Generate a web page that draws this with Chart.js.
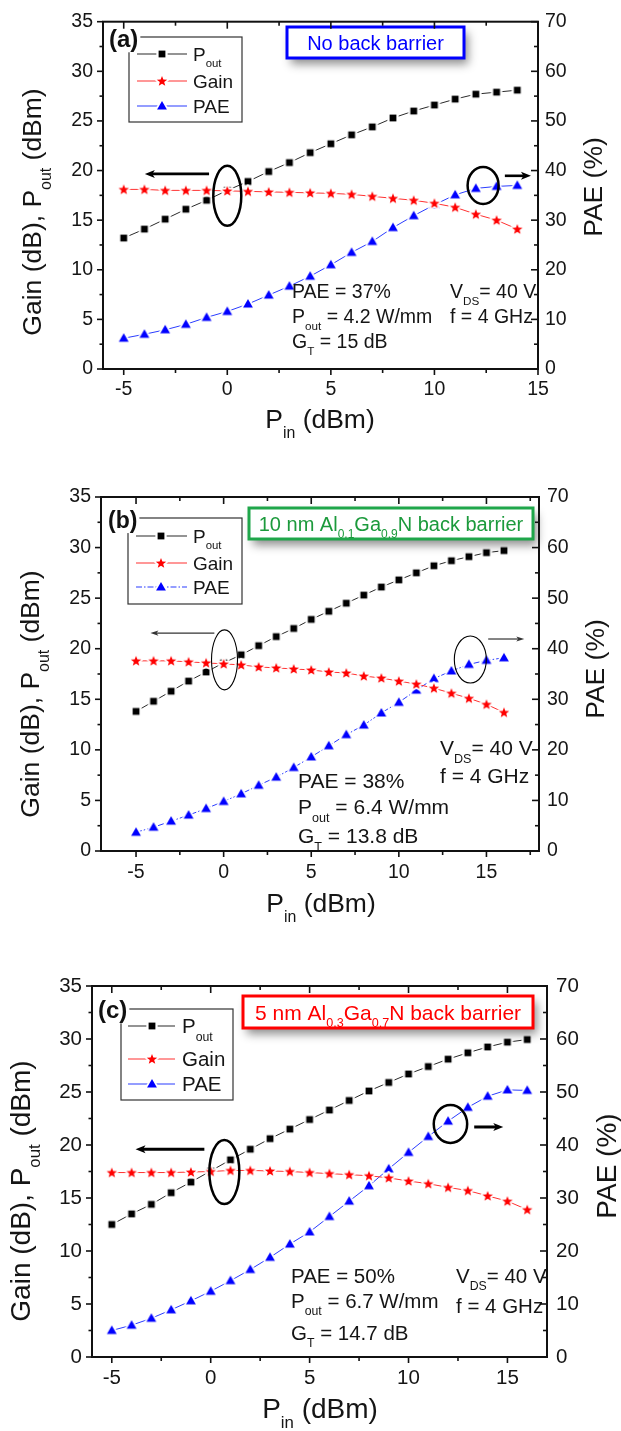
<!DOCTYPE html>
<html>
<head>
<meta charset="utf-8">
<script src="https://cdn.jsdelivr.net/npm/chart.js@4.4.1/dist/chart.umd.min.js"></script>
<style>
  html, body { margin: 0; padding: 0; background: #fff; }
  body { width: 621px; height: 1431px; position: relative; overflow: hidden; }
  canvas { position: absolute; left: 0; display: block; }
</style>
</head>
<body>
<canvas id="panelA" width="621" height="450" style="top:0px"></canvas>
<canvas id="panelB" width="621" height="480" style="top:460px"></canvas>
<canvas id="panelC" width="621" height="481" style="top:950px"></canvas>
<script>
const FONT = '"Liberation Sans", Arial, Helvetica, sans-serif';
const INK = '#151515';

// (a) no back barrier
const pinA  = [-5, -4, -3, -2, -1, 0, 1, 2, 3, 4, 5, 6, 7, 8, 9, 10, 11, 12, 13, 14];
const poutA = [13.2, 14.1, 15.1, 16.1, 17.0, 18.0, 18.9, 19.9, 20.8, 21.8, 22.7, 23.6, 24.4, 25.3, 26.0, 26.6, 27.2, 27.7, 27.9, 28.1];
const gainA = [18.1, 18.1, 18.0, 18.0, 18.0, 17.95, 17.9, 17.85, 17.8, 17.75, 17.7, 17.6, 17.4, 17.2, 17.0, 16.7, 16.3, 15.6, 15.0, 14.1];
const paeA  = [6.2, 7.0, 7.9, 9.0, 10.4, 11.6, 13.1, 14.9, 16.7, 18.7, 21.0, 23.5, 25.7, 28.5, 30.9, 33.1, 35.1, 36.4, 36.8, 37.0];

// (b) 10 nm Al0.1Ga0.9N back barrier
const pinB  = [-5, -4, -3, -2, -1, 0, 1, 2, 3, 4, 5, 6, 7, 8, 9, 10, 11, 12, 13, 14, 15, 16];
const poutB = [13.8, 14.8, 15.8, 16.8, 17.7, 18.6, 19.4, 20.3, 21.2, 22.0, 22.9, 23.7, 24.5, 25.3, 26.1, 26.8, 27.5, 28.2, 28.7, 29.1, 29.5, 29.7];
const gainB = [18.8, 18.8, 18.8, 18.7, 18.6, 18.5, 18.4, 18.2, 18.1, 18.0, 17.9, 17.7, 17.6, 17.3, 17.1, 16.8, 16.5, 16.1, 15.6, 15.1, 14.5, 13.7];
const paeB  = [3.7, 4.7, 5.9, 7.1, 8.4, 9.8, 11.3, 13.0, 14.6, 16.5, 18.6, 20.8, 23.0, 24.9, 27.3, 29.4, 31.8, 34.1, 35.6, 36.9, 37.7, 38.2];

// (c) 5 nm Al0.3Ga0.7N back barrier
const pinC  = [-5, -4, -3, -2, -1, 0, 1, 2, 3, 4, 5, 6, 7, 8, 9, 10, 11, 12, 13, 14, 15, 16];
const poutC = [12.5, 13.5, 14.4, 15.5, 16.5, 17.55, 18.6, 19.6, 20.6, 21.5, 22.4, 23.3, 24.2, 25.1, 25.9, 26.7, 27.4, 28.1, 28.7, 29.25, 29.7, 29.95];
const gainC = [17.4, 17.4, 17.4, 17.4, 17.45, 17.5, 17.6, 17.6, 17.55, 17.5, 17.4, 17.3, 17.2, 17.1, 16.9, 16.6, 16.35, 16.0, 15.7, 15.2, 14.7, 13.9];
const paeC  = [5.0, 6.0, 7.3, 8.9, 10.6, 12.4, 14.4, 16.5, 18.8, 21.3, 23.6, 26.5, 29.4, 32.3, 35.5, 38.6, 41.6, 44.5, 47.1, 49.2, 50.4, 50.3];

// axis tick values
const pinTicks  = [-5, 0, 5, 10, 15];
const gainTicks = [0, 5, 10, 15, 20, 25, 30, 35];
const paeTicks  = [0, 10, 20, 30, 40, 50, 60, 70];

// ---------- marker glyphs (filled symbol with a white gap ring) ----------
function starPath(g, cx, cy, ro, ri) {
  for (let k = 0; k < 10; k++) {
    const r = k % 2 ? ri : ro;
    const a = -Math.PI / 2 + k * Math.PI / 5;
    const px = cx + r * Math.cos(a), py = cy + r * Math.sin(a);
    if (k === 0) g.moveTo(px, py); else g.lineTo(px, py);
  }
  g.closePath();
}
function makeMarker(kind, color) {
  const c = document.createElement('canvas');
  const D = 18; c.width = D; c.height = D;
  const g = c.getContext('2d');
  const m = D / 2;
  g.beginPath();
  let ring = 3.5;
  if (kind === 'square') { g.rect(m - 3.4, m - 3.4, 6.8, 6.8); ring = 4.5; }
  else if (kind === 'star') { starPath(g, m, m + 0.4, 5.5, 2.3); }
  else { g.moveTo(m, m - 4.9); g.lineTo(m + 4.9, m + 3.5); g.lineTo(m - 4.9, m + 3.5); g.closePath(); }
  g.lineJoin = 'round';
  g.lineWidth = ring; g.strokeStyle = '#fff'; g.stroke();
  g.fillStyle = color; g.fill();
  return c;
}
const MK = {
  square: makeMarker('square', '#000000'),
  star: makeMarker('star', '#ff0000'),
  tri: makeMarker('tri', '#0000ff')
};

// ---------- rich text with subscripts ----------
function partsWidth(ctx, parts, size) {
  let w = 0;
  for (const [t, sub] of parts) {
    ctx.font = (sub ? size * 0.6 : size) + 'px ' + FONT;
    w += ctx.measureText(t).width;
  }
  return w;
}
function drawParts(ctx, parts, x, y, size, color, align, weight) {
  ctx.save();
  ctx.fillStyle = color;
  ctx.textBaseline = 'alphabetic';
  ctx.textAlign = 'left';
  const w = partsWidth(ctx, parts, size);
  let cx = align === 'center' ? x - w / 2 : x;
  for (const [t, sub] of parts) {
    ctx.font = (weight ? weight + ' ' : '') + (sub ? size * 0.6 : size) + 'px ' + FONT;
    ctx.fillText(t, cx, sub ? y + size * 0.36 : y);
    cx += ctx.measureText(t).width;
  }
  ctx.restore();
  return w;
}
function drawRotated(ctx, parts, x, y, size) {
  ctx.save();
  ctx.translate(x, y);
  ctx.rotate(-Math.PI / 2);
  drawParts(ctx, parts, 0, 0, size, INK, 'center');
  ctx.restore();
}

function minorsOf(majors, min, max) {
  const step = majors[1] - majors[0];
  const out = [];
  for (let v = majors[0] - step / 2; v <= max + 1e-9; v += step) {
    if (v >= min - 1e-9) out.push(v);
  }
  return out;
}

// ---------- per-panel decorations: frame, ticks, legend, labels ----------
function decorPlugin(cfg) {
  return {
    id: 'panelDecor',
    afterDatasetsDraw(chart) {
      const ctx = chart.ctx;
      const { x, y } = chart.scales;

      // ellipses marking which curves belong to which axis
      ctx.save();
      ctx.strokeStyle = '#000';
      for (const e of cfg.ellipses) {
        ctx.lineWidth = e.w;
        ctx.beginPath();
        ctx.ellipse(x.getPixelForValue(e.x), y.getPixelForValue(e.y), e.rx, e.ry, 0, 0, Math.PI * 2);
        ctx.stroke();
      }
      // arrows
      for (const a of cfg.arrows) {
        const x1 = x.getPixelForValue(a.x1), x2 = x.getPixelForValue(a.x2), py = y.getPixelForValue(a.y);
        const dir = Math.sign(x2 - x1);
        const hl = a.w > 2 ? 10 : 8, hw = a.w > 2 ? 4 : 2.6;
        ctx.lineWidth = a.w;
        ctx.strokeStyle = a.w > 2 ? '#000' : '#333';
        ctx.beginPath(); ctx.moveTo(x1, py); ctx.lineTo(x2 - dir * hl * 0.7, py); ctx.stroke();
        ctx.fillStyle = ctx.strokeStyle;
        ctx.beginPath();
        ctx.moveTo(x2, py); ctx.lineTo(x2 - dir * hl, py - hw); ctx.lineTo(x2 - dir * hl * 0.75, py); ctx.lineTo(x2 - dir * hl, py + hw);
        ctx.closePath(); ctx.fill();
      }
      ctx.restore();

      // operating-point notes
      for (const n of cfg.notes) drawParts(ctx, n.parts, n.x, n.y, cfg.noteSize, INK, 'left');

      // legend box
      const L = cfg.legend;
      ctx.save();
      ctx.fillStyle = '#fff';
      ctx.fillRect(L.box[0], L.box[1], L.box[2] - L.box[0], L.box[3] - L.box[1]);
      ctx.strokeStyle = '#333'; ctx.lineWidth = 1.2;
      ctx.strokeRect(L.box[0], L.box[1], L.box[2] - L.box[0], L.box[3] - L.box[1]);
      const entries = [
        { ds: chart.data.datasets[1], parts: [['P'], ['out', 1]], mk: MK.square },
        { ds: chart.data.datasets[0], parts: [['Gain']], mk: MK.star },
        { ds: chart.data.datasets[2], parts: [['PAE']], mk: MK.tri }
      ];
      entries.forEach((en, i) => {
        const ry = L.rows[i];
        ctx.strokeStyle = en.ds.borderColor;
        ctx.lineWidth = 1.2;
        ctx.setLineDash(en.ds.borderDash || []);
        ctx.beginPath(); ctx.moveTo(L.lineX[0], ry); ctx.lineTo(L.lineX[1], ry); ctx.stroke();
        ctx.setLineDash([]);
        ctx.drawImage(en.mk, L.markX - en.mk.width / 2, ry - en.mk.height / 2);
        drawParts(ctx, en.parts, L.textX, ry + L.size * 0.35, L.size, INK, 'left');
      });
      ctx.restore();

      // panel tag, on a white patch over the legend corner
      ctx.save();
      ctx.font = 'bold ' + cfg.tag.size + 'px ' + FONT;
      const tw = ctx.measureText(cfg.tag.text).width;
      ctx.fillStyle = '#fff';
      ctx.fillRect(cfg.tag.x - 2, cfg.tag.y - cfg.tag.size * 0.8, tw + 4, cfg.tag.size * 1.02);
      ctx.fillStyle = '#111';
      ctx.textBaseline = 'alphabetic';
      ctx.fillText(cfg.tag.text, cfg.tag.x, cfg.tag.y);
      ctx.restore();

      // header box with drop shadow
      const H = cfg.header;
      ctx.save();
      ctx.shadowColor = 'rgba(0,0,0,0.45)';
      ctx.shadowBlur = 9; ctx.shadowOffsetX = 4; ctx.shadowOffsetY = 6;
      ctx.fillStyle = '#fff';
      ctx.fillRect(H.box[0], H.box[1], H.box[2] - H.box[0], H.box[3] - H.box[1]);
      ctx.restore();
      ctx.save();
      ctx.strokeStyle = H.border; ctx.lineWidth = 3;
      ctx.strokeRect(H.box[0], H.box[1], H.box[2] - H.box[0], H.box[3] - H.box[1]);
      ctx.restore();
      drawParts(ctx, H.parts, (H.box[0] + H.box[2]) / 2, (H.box[1] + H.box[3]) / 2 + H.size * 0.36, H.size, H.color, 'center');
    },
    afterDraw(chart) {
      const ctx = chart.ctx;
      const a = chart.chartArea;
      const { x, y, y2 } = chart.scales;
      ctx.save();
      ctx.strokeStyle = '#111';
      ctx.lineWidth = 1.6;
      const seg = (x1, y1, x2, y2_) => { ctx.beginPath(); ctx.moveTo(x1, y1); ctx.lineTo(x2, y2_); ctx.stroke(); };
      // x: outward at bottom, inward at top
      for (const v of pinTicks) { const p = x.getPixelForValue(v); seg(p, a.bottom, p, a.bottom + 6); seg(p, a.top, p, a.top + 7); }
      for (const v of minorsOf(pinTicks, x.min, x.max)) { const p = x.getPixelForValue(v); seg(p, a.bottom, p, a.bottom + 4); seg(p, a.top, p, a.top + 4); }
      // left: outward
      for (const v of gainTicks) { const p = y.getPixelForValue(v); seg(a.left, p, a.left - 6, p); }
      for (const v of minorsOf(gainTicks, y.min, y.max)) { const p = y.getPixelForValue(v); seg(a.left, p, a.left - 3.5, p); }
      // right: inward
      for (const v of paeTicks) { const p = y2.getPixelForValue(v); seg(a.right, p, a.right - 7, p); }
      for (const v of minorsOf(paeTicks, y2.min, y2.max)) { const p = y2.getPixelForValue(v); seg(a.right, p, a.right - 4, p); }
      // frame
      ctx.lineWidth = 2;
      ctx.strokeRect(a.left, a.top, a.right - a.left, a.bottom - a.top);
      ctx.restore();

      // axis titles
      const T = cfg.titles;
      drawRotated(ctx, [['Gain (dB), P'], ['out', 1], [' (dBm)']], T.left[0], T.left[1], T.size);
      drawRotated(ctx, [['PAE (%)']], T.right[0], T.right[1], T.size);
      drawParts(ctx, [['P'], ['in', 1], [' (dBm)']], T.bottom[0], T.bottom[1], T.size, INK, 'center');
    }
  };
}

function makePanel(id, pin, pout, gain, pae, xr, cfg) {
  const canvas = document.getElementById(id);
  const W = canvas.width, Hh = canvas.height, A = cfg.area;
  const pts = vals => pin.map((p, i) => ({ x: p, y: vals[i] }));
  const tickFont = { family: FONT, size: cfg.tickSize };
  return new Chart(canvas, {
    type: 'line',
    data: {
      datasets: [
        { label: 'Gain', data: pts(gain), yAxisID: 'y', order: 0,
          borderColor: '#ff3030', borderWidth: 1, borderDash: cfg.dash.gain,
          pointStyle: MK.star, pointRadius: 4, pointHoverRadius: 4, tension: 0, fill: false },
        { label: 'Pout', data: pts(pout), yAxisID: 'y', order: 1,
          borderColor: '#2a2a2a', borderWidth: 1, borderDash: cfg.dash.pout,
          pointStyle: MK.square, pointRadius: 4, pointHoverRadius: 4, tension: 0, fill: false },
        { label: 'PAE', data: pts(pae), yAxisID: 'y2', order: 2,
          borderColor: '#2a3cff', borderWidth: 1, borderDash: cfg.dash.pae,
          pointStyle: MK.tri, pointRadius: 4, pointHoverRadius: 4, tension: 0, fill: false }
      ]
    },
    options: {
      responsive: false,
      animation: false,
      events: [],
      layout: { padding: { top: A.top, left: 0, right: 0, bottom: 0 }, autoPadding: false },
      plugins: { legend: { display: false }, tooltip: { enabled: false } },
      scales: {
        x: {
          type: 'linear', position: 'bottom', min: xr[0], max: xr[1],
          afterBuildTicks: s => { s.ticks = pinTicks.map(v => ({ value: v })); },
          afterFit: s => { s.height = Hh - A.bottom; },
          grid: { display: false, drawTicks: false }, border: { display: false },
          ticks: { padding: cfg.pad.bottom, font: tickFont, color: INK, maxRotation: 0, autoSkip: false, callback: v => String(v) }
        },
        y: {
          type: 'linear', position: 'left', min: 0, max: 35,
          afterBuildTicks: s => { s.ticks = gainTicks.map(v => ({ value: v })); },
          afterFit: s => { s.width = A.left; },
          grid: { display: false, drawTicks: false }, border: { display: false },
          ticks: { padding: cfg.pad.left, font: tickFont, color: INK, callback: v => String(v) }
        },
        y2: {
          type: 'linear', position: 'right', min: 0, max: 70,
          afterBuildTicks: s => { s.ticks = paeTicks.map(v => ({ value: v })); },
          afterFit: s => { s.width = W - A.right; },
          grid: { display: false, drawTicks: false }, border: { display: false },
          ticks: { padding: cfg.pad.right, font: tickFont, color: INK, callback: v => String(v) }
        }
      }
    },
    plugins: [decorPlugin(cfg)]
  });
}

const solid = [];

makePanel('panelA', pinA, poutA, gainA, paeA, [-6, 15], {
  area: { left: 103, right: 538, top: 16, bottom: 369 },
  tickSize: 19.5, pad: { left: 10, right: 7, bottom: 9 },
  dash: { pout: solid, gain: solid, pae: solid },
  tag: { text: '(a)', x: 109, y: 47, size: 24 },
  legend: { box: [129, 37, 242, 122], rows: [54, 81, 106], lineX: [137, 187], markX: 162, textX: 193, size: 19 },
  header: { box: [287, 27, 464, 58], border: '#0000ff', color: '#0000ff', size: 20, parts: [['No back barrier']] },
  ellipses: [ { x: 0.0, y: 17.45, rx: 14, ry: 30, w: 2.5 }, { x: 12.35, y: 18.5, rx: 15.5, ry: 18.5, w: 2.5 } ],
  arrows: [ { x1: -0.88, x2: -3.98, y: 19.66, w: 2.6 }, { x1: 13.4, x2: 14.66, y: 19.47, w: 2.6 } ],
  noteSize: 19.5,
  notes: [
    { x: 292, y: 298, parts: [['PAE = 37%']] },
    { x: 292, y: 323, parts: [['P'], ['out', 1], [' = 4.2 W/mm']] },
    { x: 292, y: 348, parts: [['G'], ['T', 1], [' = 15 dB']] },
    { x: 450, y: 298, parts: [['V'], ['DS', 1], ['= 40 V']] },
    { x: 450, y: 323, parts: [['f = 4 GHz']] }
  ],
  titles: { left: [41, 212], right: [602, 187], bottom: [320, 428], size: 26.5 }
});

makePanel('panelB', pinB, poutB, gainB, paeB, [-7, 18], {
  area: { left: 101, right: 539, top: 37, bottom: 391 },
  tickSize: 19.5, pad: { left: 10, right: 8, bottom: 10 },
  dash: { pout: solid, gain: solid, pae: [6, 2, 1.5, 2] },
  tag: { text: '(b)', x: 108, y: 68, size: 23 },
  legend: { box: [128, 58, 242, 144], rows: [76, 103, 127], lineX: [136, 187], markX: 161, textX: 193, size: 19 },
  header: { box: [249, 48, 533, 79], border: '#1fa64a', color: '#1c9a3c', size: 20,
            parts: [['10 nm Al'], ['0.1', 1], ['Ga'], ['0.9', 1], ['N back barrier']] },
  ellipses: [ { x: 0.05, y: 18.9, rx: 13, ry: 30, w: 1.1 }, { x: 14.08, y: 18.93, rx: 16, ry: 23.5, w: 1.1 } ],
  arrows: [ { x1: -0.53, x2: -4.18, y: 21.55, w: 1.2 }, { x1: 15.1, x2: 17.16, y: 20.96, w: 1.2 } ],
  noteSize: 21,
  notes: [
    { x: 298, y: 328, parts: [['PAE = 38%']] },
    { x: 298, y: 354, parts: [['P'], ['out', 1], [' = 6.4 W/mm']] },
    { x: 298, y: 383, parts: [['G'], ['T', 1], [' = 13.8 dB']] },
    { x: 440, y: 295, parts: [['V'], ['DS', 1], ['= 40 V']] },
    { x: 440, y: 323, parts: [['f = 4 GHz']] }
  ],
  titles: { left: [39, 234], right: [604, 209], bottom: [321, 452], size: 26.5 }
});

makePanel('panelC', pinC, poutC, gainC, paeC, [-6, 17], {
  area: { left: 92, right: 547, top: 36, bottom: 407 },
  tickSize: 20.5, pad: { left: 10, right: 9, bottom: 9 },
  dash: { pout: solid, gain: solid, pae: solid },
  tag: { text: '(c)', x: 98, y: 68, size: 24 },
  legend: { box: [121, 59, 233, 150], rows: [76, 109, 134], lineX: [128, 175], markX: 152, textX: 182, size: 20.5 },
  header: { box: [243, 46, 533, 78], border: '#ff0000', color: '#ff0000', size: 21,
            parts: [['5 nm Al'], ['0.3', 1], ['Ga'], ['0.7', 1], ['N back barrier']] },
  ellipses: [ { x: 0.69, y: 17.45, rx: 15, ry: 32, w: 2.5 }, { x: 12.12, y: 21.98, rx: 16.7, ry: 19, w: 2.5 } ],
  arrows: [ { x1: -0.32, x2: -3.8, y: 19.6, w: 3 }, { x1: 13.32, x2: 14.79, y: 21.7, w: 3 } ],
  noteSize: 20.5,
  notes: [
    { x: 291, y: 333, parts: [['PAE = 50%']] },
    { x: 291, y: 358, parts: [['P'], ['out', 1], [' = 6.7 W/mm']] },
    { x: 291, y: 390, parts: [['G'], ['T', 1], [' = 14.7 dB']] },
    { x: 456, y: 333, parts: [['V'], ['DS', 1], ['= 40 V']] },
    { x: 456, y: 363, parts: [['f = 4 GHz']] }
  ],
  titles: { left: [30, 241], right: [616, 216], bottom: [320, 468], size: 28 }
});
</script>
</body>
</html>
